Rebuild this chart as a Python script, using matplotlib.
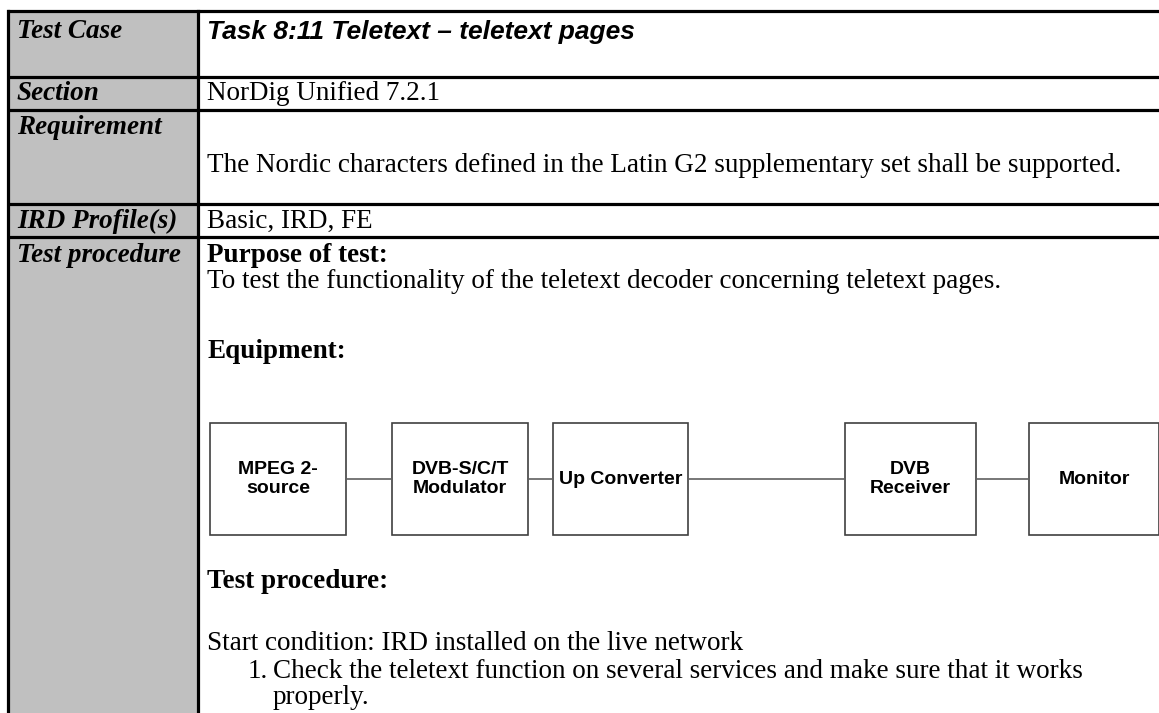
import matplotlib.pyplot as plt
from matplotlib.patches import Rectangle

# table content
row_labels = ['Test Case', 'Section', 'Requirement', 'IRD Profile(s)', 'Test procedure']
title = 'Task 8:11 Teletext \u2013 teletext pages'
section = 'NorDig Unified 7.2.1'
requirement = 'The Nordic characters defined in the Latin G2 supplementary set shall be supported.'
profiles = 'Basic, IRD, FE'
purpose_head = 'Purpose of test:'
purpose = 'To test the functionality of the teletext decoder concerning teletext pages.'
equip_head = 'Equipment:'
equipment = ['MPEG 2-\nsource', 'DVB-S/C/T\nModulator', 'Up Converter', 'DVB\nReceiver', 'Monitor']
proc_head = 'Test procedure:'
start_cond = 'Start condition: IRD installed on the live network'
steps = [['Check the teletext function on several services and make sure that it works',
          'properly.']]

# layout (pixels)
W, H = 1159, 713
x_left, x_mid = 8, 198
row_lines = [11, 77, 110, 204, 237]
label_y = [32, 94, 128, 221, 256]
box_x = [(210, 346), (392, 528), (553, 688), (845, 976), (1029, 1159)]
box_y = (423, 535)

fig = plt.figure(figsize=(W / 100, H / 100), dpi=100)
ax = fig.add_axes([0, 0, 1, 1])
ax.set_xlim(0, W)
ax.set_ylim(H, 0)
ax.axis('off')

serif = 'Liberation Serif'
sans = 'Liberation Sans'
fs = 19.5

# grey label column
ax.add_patch(Rectangle((x_left, row_lines[0]), x_mid - x_left, H - row_lines[0],
                       facecolor='#c0c0c0', edgecolor='none'))

# borders
for y in row_lines:
    ax.plot([x_left - 1.5, W], [y, y], color='black', lw=2.3, solid_capstyle='butt')
ax.plot([x_left, x_left], [row_lines[0], H], color='black', lw=2.3)
ax.plot([x_mid, x_mid], [row_lines[0], H], color='black', lw=2.3)

for lab, y in zip(row_labels, label_y):
    ax.text(17, y, lab, fontfamily=serif, fontsize=fs, fontweight='bold', fontstyle='italic',
            va='center', ha='left')

tx = 207
ax.text(tx, 32, title, fontfamily=sans, fontsize=19, fontweight='bold', fontstyle='italic',
        va='center', ha='left')
ax.text(tx, 94, section, fontfamily=serif, fontsize=fs, va='center')
ax.text(tx, 166, requirement, fontfamily=serif, fontsize=fs, va='center')
ax.text(tx, 221, profiles, fontfamily=serif, fontsize=fs, va='center')
ax.text(tx, 256, purpose_head, fontfamily=serif, fontsize=fs, fontweight='bold', va='center')
ax.text(tx, 282, purpose, fontfamily=serif, fontsize=fs, va='center')
ax.text(tx, 351, equip_head, fontfamily=serif, fontsize=fs, fontweight='bold', va='center')

# equipment chain
cy = (box_y[0] + box_y[1]) / 2
for i, (name, (x0, x1)) in enumerate(zip(equipment, box_x)):
    ax.add_patch(Rectangle((x0, box_y[0]), x1 - x0, box_y[1] - box_y[0],
                           facecolor='white', edgecolor='#404040', lw=1.2))
    ax.text((x0 + x1) / 2, cy, name, fontfamily=sans, fontsize=14, fontweight='bold',
            ha='center', va='center', linespacing=1.2)
    if i + 1 < len(box_x):
        ax.plot([x1, box_x[i + 1][0]], [cy, cy], color='#606060', lw=1.2)

ax.text(tx, 582, proc_head, fontfamily=serif, fontsize=fs, fontweight='bold', va='center')
ax.text(tx, 644, start_cond, fontfamily=serif, fontsize=fs, va='center')
for k, lines in enumerate(steps):
    ax.text(248, 671, f'{k + 1}.', fontfamily=serif, fontsize=fs, va='center', ha='left')
    for j, line in enumerate(lines):
        ax.text(273, 671 + 27 * j, line, fontfamily=serif, fontsize=fs, va='center', ha='left')

fig.savefig('out.png', dpi=100)
